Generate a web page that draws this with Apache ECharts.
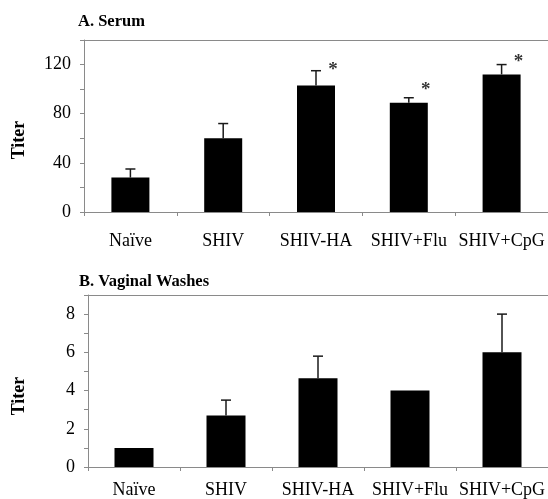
<!DOCTYPE html>
<html>
<head>
<meta charset="utf-8">
<script src="https://cdn.jsdelivr.net/npm/echarts@6/dist/echarts.min.js"></script>
<style>
html,body{margin:0;padding:0;background:#fff;}
#c{width:548px;height:499px;}
</style>
</head>
<body>
<div id="c"></div>
<script>
const categories = ['Naïve', 'SHIV', 'SHIV-HA', 'SHIV+Flu', 'SHIV+CpG'];
// A. Serum
const serumMean = [28, 60, 103, 89, 112];
const serumUpper = [35, 72, 115, 93, 120];
const serumStar = [null, null, 116, 100, 123];
const serumTicks = [0, 40, 80, 120];
// B. Vaginal Washes
const vagMean = [1, 2.7, 4.65, 4, 6];
const vagUpper = [null, 3.5, 5.8, null, 8];
const vagTicks = [0, 2, 4, 6, 8];

const FONT = "'Liberation Serif', 'Times New Roman', serif";
const AXIS = '#8a8a8a';

function errRender(params, api) {
  const up = api.value(2);
  if (up === null || up === undefined || isNaN(up)) return null;
  const p0 = api.coord([api.value(0), api.value(1)]);
  const p1 = api.coord([api.value(0), up]);
  const st = { stroke: '#1a1a1a', lineWidth: 1.5 };
  return {
    type: 'group',
    children: [
      { type: 'line', shape: { x1: p0[0], y1: p0[1], x2: p1[0], y2: p1[1] }, style: st },
      { type: 'line', shape: { x1: p1[0] - 5, y1: p1[1], x2: p1[0] + 5, y2: p1[1] }, style: st }
    ]
  };
}

function xAxisCfg(gi, margin) {
  return {
    type: 'category', gridIndex: gi, data: categories,
    axisLine: { lineStyle: { color: AXIS, width: 1 } },
    axisTick: { show: true, length: 4, lineStyle: { color: AXIS } },
    axisLabel: { color: '#000', fontFamily: FONT, fontSize: 18, margin: margin, interval: 0 }
  };
}
function topAxisCfg(gi) {
  return {
    type: 'category', gridIndex: gi, data: categories, position: 'top',
    axisLine: { show: true, lineStyle: { color: AXIS, width: 1 } },
    axisTick: { show: false }, axisLabel: { show: false }
  };
}
function yAxisCfg(gi, max, interval, ticks) {
  return {
    type: 'value', gridIndex: gi, min: 0, max: max, interval: interval,
    axisLine: { show: true, lineStyle: { color: AXIS, width: 1 } },
    axisTick: { show: true, length: 4, lineStyle: { color: AXIS } },
    splitLine: { show: false },
    axisLabel: {
      color: '#000', fontFamily: FONT, fontSize: 18, margin: 13,
      formatter: v => ticks.indexOf(v) >= 0 ? String(v) : ''
    }
  };
}

const chart = echarts.init(document.getElementById('c'), null, { renderer: 'canvas' });
chart.setOption({
  backgroundColor: '#fff',
  animation: false,
  title: [
    { text: 'A. Serum', left: 73, top: 8, textStyle: { fontFamily: FONT, fontSize: 16.5, fontWeight: 'bold', color: '#000' } },
    { text: 'B. Vaginal Washes', left: 74, top: 268, textStyle: { fontFamily: FONT, fontSize: 16.5, fontWeight: 'bold', color: '#000' } }
  ],
  graphic: [
    { type: 'text', x: 19, y: 140, rotation: Math.PI / 2,
      style: { text: 'Titer', font: "bold 18px 'Liberation Serif', serif", fill: '#000', textAlign: 'center', textVerticalAlign: 'middle' } },
    { type: 'text', x: 19, y: 396, rotation: Math.PI / 2,
      style: { text: 'Titer', font: "bold 18px 'Liberation Serif', serif", fill: '#000', textAlign: 'center', textVerticalAlign: 'middle' } }
  ],
  grid: [
    { left: 84, top: 40, width: 466, height: 172 },
    { left: 88, top: 295, width: 464, height: 172 }
  ],
  xAxis: [xAxisCfg(0, 20), xAxisCfg(1, 14), topAxisCfg(0), topAxisCfg(1)],
  yAxis: [yAxisCfg(0, 140, 20, serumTicks), yAxisCfg(1, 9, 1, vagTicks)],
  series: [
    { type: 'bar', xAxisIndex: 0, yAxisIndex: 0, data: serumMean, barWidth: 38,
      itemStyle: { color: '#000' } },
    { type: 'custom', xAxisIndex: 0, yAxisIndex: 0, renderItem: errRender, z: 5,
      encode: { x: 0, y: [1, 2] },
      data: serumMean.map((m, i) => [i, m, serumUpper[i]]) },
    { type: 'scatter', xAxisIndex: 0, yAxisIndex: 0, symbolSize: 0, z: 6,
      data: serumStar.map((s, i) => s === null ? [i, null] : [i, s]),
      label: { show: true, formatter: '*', offset: [17, 1], position: 'inside',
        fontFamily: FONT, fontSize: 19, fontWeight: 'bold', color: '#000' } },
    { type: 'bar', xAxisIndex: 1, yAxisIndex: 1, data: vagMean, barWidth: 39,
      itemStyle: { color: '#000' } },
    { type: 'custom', xAxisIndex: 1, yAxisIndex: 1, renderItem: errRender, z: 5,
      encode: { x: 0, y: [1, 2] },
      data: vagMean.map((m, i) => [i, m, vagUpper[i] === null ? NaN : vagUpper[i]]) }
  ]
});
</script>
</body>
</html>
